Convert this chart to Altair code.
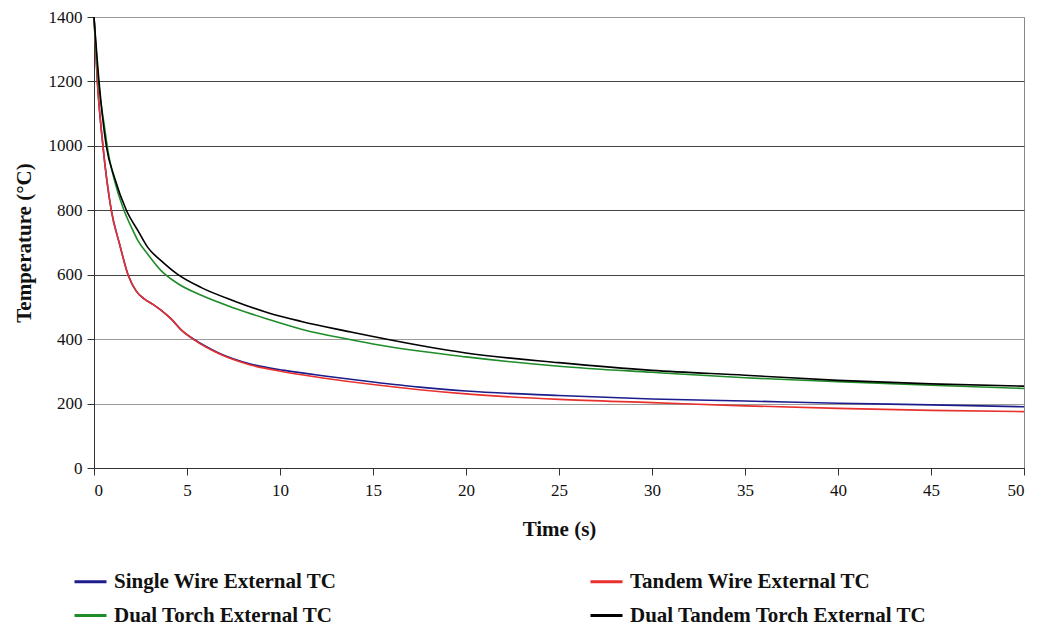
import altair as alt
import pandas as pd

# ---- data ----
single_t = [0, 0.18, 0.48, 0.93, 1.38, 1.83, 2.27, 2.7, 3.17, 3.6, 4.16, 4.7, 5.41, 6.67, 8.46, 10.25, 12.5, 15, 17.5, 20, 25, 30, 35, 40, 45, 50]
single_T = [1400, 1200, 1000, 800, 694, 600, 549, 525, 508, 490, 462, 428, 398, 358, 322, 303, 285, 267, 251, 239, 225, 214, 208, 201, 196, 190]

tandem_t = [0, 0.18, 0.48, 0.93, 1.38, 1.83, 2.27, 2.7, 3.17, 3.6, 4.16, 4.7, 5.41, 6.67, 8.46, 10.25, 12.5, 15, 17.5, 20, 25, 30, 35, 40, 45, 50]
tandem_T = [1400, 1200, 1000, 800, 694, 600, 549, 525, 508, 490, 462, 428, 397, 356, 319, 298, 278, 259, 243, 230, 213, 203, 193, 185, 179, 175]

dual_t = [0, 0.24, 0.57, 0.75, 1.11, 1.56, 2.02, 2.37, 2.9, 3.62, 4.52, 5.77, 7.56, 9.35, 11.15, 13.82, 15, 20, 25, 30, 35, 40, 45, 50]
dual_T = [1400, 1200, 1057, 984, 891, 808, 746, 705, 663, 612, 572, 536, 496, 462, 431, 398, 385, 345, 316, 297, 280, 268, 257, 247]

dtandem_t = [0, 0.27, 0.66, 1.11, 1.74, 2.37, 2.9, 3.62, 4.5, 5.77, 7.56, 9.35, 11.15, 13.82, 15, 20, 25, 30, 35, 40, 45, 50]
dtandem_T = [1400, 1200, 1000, 900, 800, 736, 684, 643, 601, 560, 518, 482, 455, 422, 408, 357, 327, 303, 288, 272, 261, 254]

series = ["Single Wire External TC", "Tandem Wire External TC",
          "Dual Torch External TC", "Dual Tandem Torch External TC"]
colors = ["#1c1c8c", "#e8302c", "#1e8c28", "#000000"]

rows = []
for name, ts, Ts in zip(series, [single_t, tandem_t, dual_t, dtandem_t],
                        [single_T, tandem_T, dual_T, dtandem_T]):
    for t, T in zip(ts, Ts):
        rows.append({"series": name, "t": t, "T": T})
df = pd.DataFrame(rows)

FONT = "Liberation Serif"

chart = alt.Chart(df).mark_line(strokeWidth=1.6, interpolate="monotone").encode(
    x=alt.X("t:Q", title="Time (s)",
            scale=alt.Scale(domain=[0, 50], nice=False),
            axis=alt.Axis(values=list(range(0, 51, 5)), grid=False, format="d",
                          tickSize=7, labelPadding=7, titlePadding=20,
                          domainColor="#333", tickColor="#333",
                          labelFont=FONT, labelFontSize=17, labelColor="#111",
                          titleFont=FONT, titleFontSize=21, titleFontWeight="bold",
                          titleColor="#111")),
    y=alt.Y("T:Q", title="Temperature (°C)",
            scale=alt.Scale(domain=[0, 1400], nice=False),
            axis=alt.Axis(values=list(range(0, 1401, 200)), grid=True, format="d",
                          gridColor={"condition": {"test": "datum.value == 1400 || datum.value == 400 || datum.value == 200",
                                                   "value": "#9a9a9a"},
                                     "value": "#444444"},
                          gridWidth=1,
                          tickSize=7, labelPadding=5, titlePadding=14,
                          domainColor="#333", tickColor="#333",
                          labelFont=FONT, labelFontSize=17, labelColor="#111",
                          titleFont=FONT, titleFontSize=21, titleFontWeight="bold",
                          titleColor="#111")),
    color=alt.Color("series:N",
                    scale=alt.Scale(domain=series, range=colors),
                    legend=alt.Legend(title=None, orient="none", direction="horizontal",
                                      legendX=-21, legendY=547,
                                      columns=2, columnPadding=247,
                                      rowPadding=6,
                                      symbolType="stroke", symbolSize=1024,
                                      symbolStrokeWidth=3, labelOffset=6,
                                      labelFont=FONT, labelFontSize=21,
                                      labelFontWeight="bold", labelColor="#111",
                                      labelLimit=400)),
    order=alt.Order("t:Q"),
).properties(
    width=930, height=451,
    padding={"left": 5, "top": 0, "right": 5, "bottom": 5},
).configure_view(stroke="#888888")

chart.save("out.html", embed_options={"renderer": "svg", "actions": False})
